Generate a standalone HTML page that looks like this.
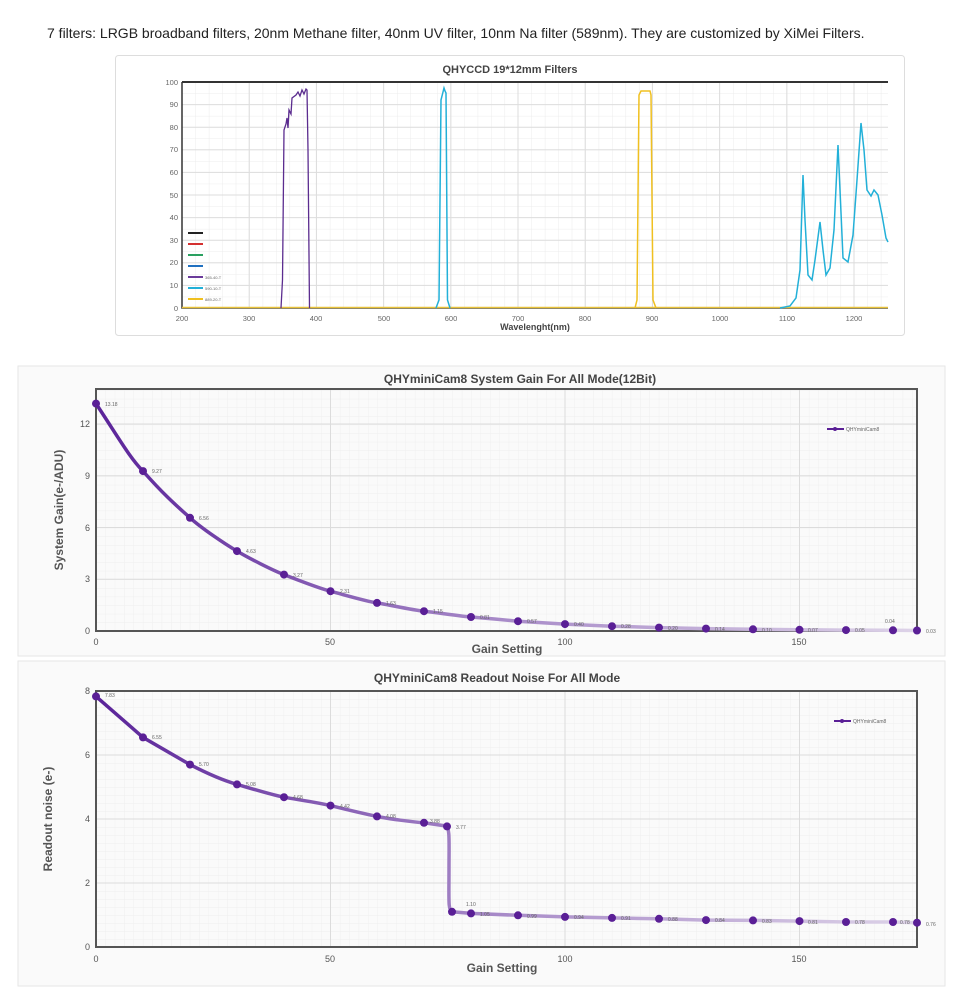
<!DOCTYPE html>
<html><head><meta charset="utf-8"><style>
body{margin:0;width:960px;height:999px;background:#fff;font-family:"Liberation Sans",sans-serif;overflow:hidden}
svg{position:absolute;left:0;top:0}
</style></head><body>
<svg width="960" height="999" viewBox="0 0 960 999" font-family="Liberation Sans, sans-serif">
<defs>
<pattern id="g1" width="13.44" height="11.3" patternUnits="userSpaceOnUse" x="182" y="82"><path d="M0 0H13.44M0 0V11.3" stroke="#ececec" stroke-width="1" fill="none"/></pattern>
<pattern id="g2" width="9.38" height="8.6" patternUnits="userSpaceOnUse" x="96" y="631"><path d="M0 0H9.38M0 0V8.6" stroke="#ececec" stroke-width="0.7" fill="none"/></pattern>
<pattern id="g3" width="9.38" height="8" patternUnits="userSpaceOnUse" x="96" y="947"><path d="M0 0H9.38M0 0V8" stroke="#ececec" stroke-width="0.7" fill="none"/></pattern>
<linearGradient id="lg" x1="96" x2="917" y1="0" y2="0" gradientUnits="userSpaceOnUse"><stop offset="0" stop-color="#5a2399"/><stop offset="0.5" stop-color="#a98cc9"/><stop offset="1" stop-color="#ddd3e8"/></linearGradient>
</defs>
<text x="47" y="38" font-size="14" fill="#222">7 filters: LRGB broadband filters, 20nm Methane filter, 40nm UV filter, 10nm Na filter (589nm). They are customized by XiMei Filters.</text>

<!-- top chart -->
<rect x="115.5" y="55.5" width="789" height="280" fill="#fff" stroke="#ddd" rx="3"/>
<text x="510" y="73" font-size="11" font-weight="bold" fill="#444" text-anchor="middle">QHYCCD 19*12mm Filters</text>
<rect x="182" y="82" width="706" height="226" fill="url(#g1)"/>
<g stroke="#ddd" stroke-width="1">
<path d="M249.2 82V308M316.4 82V308M383.6 82V308M450.8 82V308M518 82V308M585.2 82V308M652.4 82V308M719.6 82V308M786.8 82V308M854 82V308"/>
<path d="M182 104.6H888M182 127.2H888M182 149.8H888M182 172.4H888M182 195H888M182 217.6H888M182 240.2H888M182 262.8H888M182 285.4H888"/>
</g>
<path d="M182 82H888" stroke="#333" stroke-width="2"/>
<path d="M182 82V308H888" stroke="#333" stroke-width="1.5" fill="none"/>
<g font-size="7.5" fill="#666" text-anchor="end">
<text x="178" y="85">100</text><text x="178" y="107">90</text><text x="178" y="130">80</text><text x="178" y="152">70</text><text x="178" y="175">60</text><text x="178" y="198">50</text><text x="178" y="220">40</text><text x="178" y="243">30</text><text x="178" y="265">20</text><text x="178" y="288">10</text><text x="178" y="311">0</text>
</g>
<g font-size="7.5" fill="#666" text-anchor="middle">
<text x="182" y="321">200</text><text x="249" y="321">300</text><text x="316" y="321">400</text><text x="384" y="321">500</text><text x="451" y="321">600</text><text x="518" y="321">700</text><text x="585" y="321">800</text><text x="652" y="321">900</text><text x="720" y="321">1000</text><text x="787" y="321">1100</text><text x="854" y="321">1200</text>
</g>
<text x="535" y="330" font-size="9" font-weight="bold" fill="#444" text-anchor="middle">Wavelenght(nm)</text>
<path d="M182 307.5H888" stroke="#e8c23a" stroke-width="1.5"/>
<path d="M281 308L282.5 280L284 130L286 124L287 118L288 128L289 110L291 114L292 98L296 95L298 92L300 96L302 90L304 94L306 89L307 90L308 150L309.5 308" stroke="#5b2c8f" stroke-width="1.3" fill="none"/>
<path d="M436 308L439 300L441 100L443 92L444 88L445 91L446 93L447.5 300L450 308" stroke="#22b0d8" stroke-width="1.5" fill="none"/>
<path d="M635 308L637 300L639 95L641 91H650L651 95L653 300L656 308" stroke="#f0c020" stroke-width="1.5" fill="none"/>
<path d="M780 308L790 306L796 298L800 270L803 175L805 220L808 275L812 280L815 260L820 222L823 250L826 275L830 268L834 230L838 145L840 190L843 258L848 262L853 235L857 180L861 123L864 150L867 190L871 196L874 190L878 195L882 215L886 238L888 242" stroke="#22b0d8" stroke-width="1.5" fill="none"/>
<g stroke-width="2"><path d="M188 233H203" stroke="#222"/><path d="M188 244H203" stroke="#d43030"/><path d="M188 255H203" stroke="#2aa060"/><path d="M188 266H203" stroke="#2070c0"/><path d="M188 277H203" stroke="#6a3a9a"/><path d="M188 288H203" stroke="#22b0d8"/><path d="M188 299H203" stroke="#f0c020"/></g>
<g font-size="4" fill="#666"><text x="205" y="279">365-40-T</text><text x="205" y="290">590-10-T</text><text x="205" y="301">889-20-T</text></g>

<!-- gain chart -->
<rect x="18" y="366" width="927" height="290" fill="#fafafa" stroke="#e6e6e6"/>
<text x="520" y="383" font-size="12" font-weight="bold" fill="#444" text-anchor="middle">QHYminiCam8  System Gain For All Mode(12Bit)</text>
<rect x="96" y="389" width="821" height="242" fill="url(#g2)"/>
<g stroke="#dcdcdc"><path d="M330.5 389V631M565 389V631M799.5 389V631M96 579.3H917M96 527.5H917M96 475.8H917M96 424H917"/></g>
<rect x="96" y="389" width="821" height="242" fill="none" stroke="#555" stroke-width="2"/>
<g font-size="9" fill="#555" text-anchor="end"><text x="90" y="634">0</text><text x="90" y="582">3</text><text x="90" y="531">6</text><text x="90" y="479">9</text><text x="90" y="427">12</text></g>
<g font-size="9" fill="#555" text-anchor="middle"><text x="96" y="645">0</text><text x="330" y="645">50</text><text x="565" y="645">100</text><text x="799" y="645">150</text></g>
<text x="507" y="653" font-size="12" font-weight="bold" fill="#555" text-anchor="middle">Gain Setting</text>
<text transform="translate(63 510) rotate(-90)" font-size="12" font-weight="bold" fill="#555" text-anchor="middle">System Gain(e-/ADU)</text>
<path d="M96 403.6C120 440 130 458 143 471.1C165 496 178 507 190 517.8S225 544 237 551.1S272 570 284 574.6S318 588 330.5 591.2S365 601 377 602.9S412 610 424 611.2S459 616 471 617S506 620 518 621.2L565 624.1L612 626.2L659 627.6L706 628.6L753 629.3L799.5 629.8L846 630.1L893 630.3L917 630.5" fill="none" stroke="url(#lg)" stroke-width="3.5"/>
<g fill="#5a1f96">
<circle cx="96" cy="403.6" r="4"/><circle cx="143" cy="471.1" r="4"/><circle cx="190" cy="517.8" r="4"/><circle cx="237" cy="551.1" r="4"/><circle cx="284" cy="574.6" r="4"/><circle cx="330.5" cy="591.2" r="4"/><circle cx="377" cy="602.9" r="4"/><circle cx="424" cy="611.2" r="4"/><circle cx="471" cy="617" r="4"/><circle cx="518" cy="621.2" r="4"/><circle cx="565" cy="624.1" r="4"/><circle cx="612" cy="626.2" r="4"/><circle cx="659" cy="627.6" r="4"/><circle cx="706" cy="628.6" r="4"/><circle cx="753" cy="629.3" r="4"/><circle cx="799.5" cy="629.8" r="4"/><circle cx="846" cy="630.1" r="4"/><circle cx="893" cy="630.3" r="4"/><circle cx="917" cy="630.5" r="4"/>
</g>
<g font-size="5" fill="#666">
<text x="105" y="406">13.18</text><text x="152" y="473">9.27</text><text x="199" y="520">6.56</text><text x="246" y="553">4.63</text><text x="293" y="577">3.27</text><text x="340" y="593">2.31</text><text x="386" y="605">1.63</text><text x="433" y="613">1.15</text><text x="480" y="619">0.81</text><text x="527" y="623">0.57</text><text x="574" y="626">0.40</text><text x="621" y="628">0.28</text><text x="668" y="630">0.20</text><text x="715" y="631">0.14</text><text x="762" y="632">0.10</text><text x="808" y="632">0.07</text><text x="855" y="632">0.05</text><text x="885" y="623">0.04</text><text x="926" y="633">0.03</text>
</g>
<path d="M827 429H844" stroke="#5a1f96" stroke-width="2"/><circle cx="835" cy="429" r="2" fill="#5a1f96"/><text x="846" y="431" font-size="5" fill="#666">QHYminiCam8</text>

<!-- noise chart -->
<rect x="18" y="661" width="927" height="325" fill="#fafafa" stroke="#e6e6e6"/>
<text x="497" y="682" font-size="12" font-weight="bold" fill="#444" text-anchor="middle">QHYminiCam8  Readout Noise For All Mode</text>
<rect x="96" y="691" width="821" height="256" fill="url(#g3)"/>
<g stroke="#dcdcdc"><path d="M330.5 691V947M565 691V947M799.5 691V947M96 883H917M96 819H917M96 755H917"/></g>
<rect x="96" y="691" width="821" height="256" fill="none" stroke="#555" stroke-width="2"/>
<g font-size="9" fill="#555" text-anchor="end"><text x="90" y="950">0</text><text x="90" y="886">2</text><text x="90" y="822">4</text><text x="90" y="758">6</text><text x="90" y="694">8</text></g>
<g font-size="9" fill="#555" text-anchor="middle"><text x="96" y="962">0</text><text x="330" y="962">50</text><text x="565" y="962">100</text><text x="799" y="962">150</text></g>
<text x="502" y="972" font-size="12" font-weight="bold" fill="#555" text-anchor="middle">Gain Setting</text>
<text transform="translate(52 819) rotate(-90)" font-size="12" font-weight="bold" fill="#555" text-anchor="middle">Readout noise (e-)</text>
<path d="M96 696.4L143 737.4L190 764.6C210 775 225 781 237 784.4S272 795 284 797.2S320 803 330.5 805.6S365 814 377 816.4S412 822 424 822.8L446 826C450 828 449 840 449 870C449 900 448 910 452 911.8L471 913.4L518 915.3L565 916.9L612 917.9L659 918.8L706 920.1L753 920.4L799.5 921.1L846 922L893 922L917 922.7" fill="none" stroke="url(#lg)" stroke-width="3.5"/>
<g fill="#5a1f96">
<circle cx="96" cy="696.4" r="4"/><circle cx="143" cy="737.4" r="4"/><circle cx="190" cy="764.6" r="4"/><circle cx="237" cy="784.4" r="4"/><circle cx="284" cy="797.2" r="4"/><circle cx="330.5" cy="805.6" r="4"/><circle cx="377" cy="816.4" r="4"/><circle cx="424" cy="822.8" r="4"/><circle cx="447" cy="826.4" r="4"/><circle cx="452" cy="911.8" r="4"/><circle cx="471" cy="913.4" r="4"/><circle cx="518" cy="915.3" r="4"/><circle cx="565" cy="916.9" r="4"/><circle cx="612" cy="917.9" r="4"/><circle cx="659" cy="918.8" r="4"/><circle cx="706" cy="920.1" r="4"/><circle cx="753" cy="920.4" r="4"/><circle cx="799.5" cy="921.1" r="4"/><circle cx="846" cy="922" r="4"/><circle cx="893" cy="922" r="4"/><circle cx="917" cy="922.7" r="4"/>
</g>
<g font-size="5" fill="#666">
<text x="105" y="697">7.83</text><text x="152" y="739">6.55</text><text x="199" y="766">5.70</text><text x="246" y="786">5.08</text><text x="293" y="799">4.68</text><text x="340" y="808">4.42</text><text x="386" y="818">4.08</text><text x="430" y="823">3.88</text><text x="456" y="829">3.77</text><text x="466" y="906">1.10</text><text x="480" y="916">1.05</text><text x="527" y="918">0.99</text><text x="574" y="919">0.94</text><text x="621" y="920">0.91</text><text x="668" y="921">0.88</text><text x="715" y="922">0.84</text><text x="762" y="923">0.83</text><text x="808" y="924">0.81</text><text x="855" y="924">0.78</text><text x="900" y="924">0.78</text><text x="926" y="926">0.76</text>
</g>
<path d="M834 721H851" stroke="#5a1f96" stroke-width="2"/><circle cx="842" cy="721" r="2" fill="#5a1f96"/><text x="853" y="723" font-size="5" fill="#666">QHYminiCam8</text>
</svg>
</body></html>
